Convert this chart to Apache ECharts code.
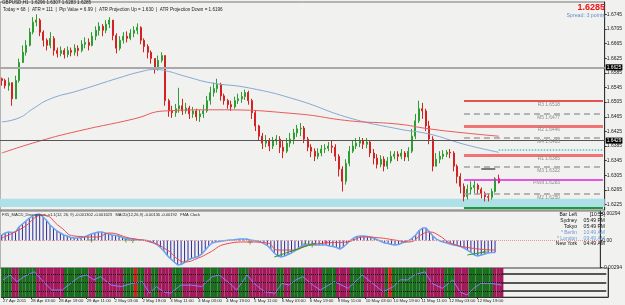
<!DOCTYPE html>
<html>
<head>
<meta charset="utf-8">
<script src="https://cdn.jsdelivr.net/npm/echarts@6/dist/echarts.min.js"></script>
<style>
html, body { margin: 0; padding: 0; background: #f1f1ef; }
#chart { width: 625px; height: 305px; }
</style>
</head>
<body>
<div id="chart"></div>
<script>
// GBPUSD H1 screen, candles grouped by 2 hours
const axisTicks = ['27 Apr 2011', '28 Apr 03:00', '28 Apr 19:00', '29 Apr 11:00', '2 May 03:00', '2 May 19:00',
    '3 May 11:00', '4 May 03:00', '4 May 19:00', '5 May 11:00', '6 May 03:00', '6 May 19:00',
    '9 May 11:00', '10 May 03:00', '10 May 19:00', '11 May 11:00', '12 May 03:00', '12 May 19:00'];

const firstOpen = 1.6569;
const closes = [
    1.6564, 1.6550, 1.6558, 1.6514, 1.6564, 1.6613, 1.6641, 1.6660, 1.6696, 1.6723,
    1.6729, 1.6696, 1.6674, 1.6660, 1.6679, 1.6646, 1.6638, 1.6646, 1.6635, 1.6646,
    1.6641, 1.6652, 1.6646, 1.6663, 1.6668, 1.6660, 1.6685, 1.6701, 1.6712, 1.6701,
    1.6718, 1.6729, 1.6687, 1.6652, 1.6674, 1.6685, 1.6679, 1.6693, 1.6701, 1.6709,
    1.6674, 1.6657, 1.6641, 1.6624, 1.6597, 1.6619, 1.6632, 1.6509, 1.6481, 1.6476,
    1.6487, 1.6495, 1.6481, 1.6489, 1.6473, 1.6481, 1.6465, 1.6473, 1.6481, 1.6509,
    1.6531, 1.6542, 1.6553, 1.6522, 1.6509, 1.6498, 1.6492, 1.6509, 1.6514, 1.6520,
    1.6531, 1.6509, 1.6476, 1.6440, 1.6412, 1.6393, 1.6399, 1.6385, 1.6399, 1.6404,
    1.6382, 1.6371, 1.6393, 1.6404, 1.6421, 1.6432, 1.6434, 1.6404, 1.6382, 1.6371,
    1.6357, 1.6366, 1.6377, 1.6379, 1.6385, 1.6382, 1.6357, 1.6322, 1.6289, 1.6338,
    1.6371, 1.6385, 1.6393, 1.6399, 1.6390, 1.6396, 1.6366, 1.6352, 1.6335, 1.6349,
    1.6330, 1.6344, 1.6357, 1.6363, 1.6357, 1.6366, 1.6355, 1.6371, 1.6412, 1.6454,
    1.6487, 1.6481, 1.6440, 1.6404, 1.6330, 1.6349, 1.6357, 1.6363, 1.6368, 1.6366,
    1.6330, 1.6302, 1.6275, 1.6247, 1.6267, 1.6272, 1.6278, 1.6267, 1.6256, 1.6247,
    1.6245, 1.6261, 1.6296, 1.6285
];
const highs = [
    1.6572, 1.6569, 1.6572, 1.6550, 1.6577, 1.6624, 1.6660, 1.6674, 1.6707, 1.6737,
    1.6745, 1.6734, 1.6701, 1.6679, 1.6696, 1.6685, 1.6654, 1.6657, 1.6652, 1.6657,
    1.6654, 1.6663, 1.6660, 1.6674, 1.6682, 1.6679, 1.6696, 1.6712, 1.6723, 1.6718,
    1.6729, 1.6737, 1.6729, 1.6693, 1.6685, 1.6696, 1.6698, 1.6704, 1.6712, 1.6720,
    1.6712, 1.6679, 1.6663, 1.6646, 1.6624, 1.6632, 1.6641, 1.6632, 1.6514, 1.6495,
    1.6500, 1.6544, 1.6514, 1.6503, 1.6495, 1.6492, 1.6487, 1.6484, 1.6498, 1.6522,
    1.6547, 1.6558, 1.6569, 1.6558, 1.6528, 1.6514, 1.6509, 1.6520, 1.6528, 1.6533,
    1.6539, 1.6536, 1.6514, 1.6481, 1.6443, 1.6421, 1.6415, 1.6407, 1.6410, 1.6415,
    1.6412, 1.6399, 1.6407, 1.6421, 1.6432, 1.6443, 1.6448, 1.6440, 1.6410, 1.6390,
    1.6379, 1.6379, 1.6388, 1.6390, 1.6396, 1.6399, 1.6390, 1.6363, 1.6330, 1.6349,
    1.6385, 1.6399, 1.6407, 1.6410, 1.6407, 1.6407, 1.6399, 1.6377, 1.6363, 1.6360,
    1.6357, 1.6355, 1.6371, 1.6371, 1.6371, 1.6377, 1.6371, 1.6382, 1.6432, 1.6473,
    1.6509, 1.6503, 1.6487, 1.6454, 1.6412, 1.6366, 1.6371, 1.6374, 1.6374, 1.6377,
    1.6371, 1.6335, 1.6311, 1.6283, 1.6280, 1.6289, 1.6291, 1.6283, 1.6272, 1.6261,
    1.6256, 1.6269, 1.6300, 1.6307
];
const lows = [
    1.6550, 1.6542, 1.6536, 1.6495, 1.6514, 1.6558, 1.6613, 1.6632, 1.6657, 1.6690,
    1.6712, 1.6685, 1.6657, 1.6646, 1.6652, 1.6632, 1.6627, 1.6630, 1.6624, 1.6627,
    1.6630, 1.6632, 1.6630, 1.6641, 1.6652, 1.6646, 1.6657, 1.6674, 1.6687, 1.6685,
    1.6693, 1.6707, 1.6674, 1.6638, 1.6646, 1.6665, 1.6668, 1.6674, 1.6682, 1.6690,
    1.6663, 1.6641, 1.6624, 1.6610, 1.6583, 1.6591, 1.6613, 1.6495, 1.6465, 1.6462,
    1.6465, 1.6476, 1.6470, 1.6473, 1.6459, 1.6462, 1.6454, 1.6451, 1.6462, 1.6476,
    1.6498, 1.6520, 1.6531, 1.6509, 1.6498, 1.6487, 1.6481, 1.6487, 1.6500, 1.6503,
    1.6511, 1.6498, 1.6459, 1.6426, 1.6399, 1.6377, 1.6382, 1.6371, 1.6377, 1.6388,
    1.6366, 1.6352, 1.6366, 1.6382, 1.6390, 1.6410, 1.6412, 1.6393, 1.6371, 1.6355,
    1.6344, 1.6349, 1.6357, 1.6366, 1.6371, 1.6366, 1.6344, 1.6302, 1.6261, 1.6280,
    1.6330, 1.6366, 1.6377, 1.6382, 1.6377, 1.6379, 1.6355, 1.6335, 1.6324, 1.6327,
    1.6316, 1.6322, 1.6338, 1.6349, 1.6344, 1.6349, 1.6344, 1.6344, 1.6366, 1.6404,
    1.6448, 1.6459, 1.6426, 1.6390, 1.6316, 1.6330, 1.6338, 1.6349, 1.6355, 1.6352,
    1.6316, 1.6283, 1.6256, 1.6234, 1.6239, 1.6253, 1.6256, 1.6253, 1.6242, 1.6234,
    1.6234, 1.6239, 1.6258, 1.6283
];

// moving averages, [bar, price]
const maBlue = [[0, 1.6451], [5, 1.6462], [9, 1.6487], [14, 1.6514], [22, 1.6536], [34, 1.6572], [40, 1.6588],
    [44, 1.6594], [47, 1.6591], [53, 1.6575], [60, 1.6558], [71, 1.6544], [85, 1.6511], [100, 1.6462],
    [114, 1.6432], [123, 1.6418], [133, 1.6390], [143, 1.6368]];
const maRed = [[0, 1.6366], [11, 1.6399], [22, 1.6426], [38, 1.6459], [47, 1.6481], [62, 1.6484], [85, 1.6473],
    [100, 1.6454], [114, 1.6445], [123, 1.6432], [133, 1.6421], [143, 1.6412]];

const macd = [
    0.00060, 0.00082, 0.00093, 0.00087, 0.00093, 0.00147, 0.00180, 0.00213, 0.00245, 0.00267,
    0.00283, 0.00289, 0.00256, 0.00218, 0.00169, 0.00136, 0.00104, 0.00082, 0.00060, 0.00049,
    0.00033, 0.00027, 0.00027, 0.00033, 0.00038, 0.00055, 0.00071, 0.00082, 0.00093, 0.00093,
    0.00082, 0.00071, 0.00060, 0.00055, 0.00049, 0.00033, 0.00022, 0.00016, 0.00016, 0.00011,
    0.00005, 0.00005, 0.00000, -0.00011, -0.00022, -0.00044, -0.00076, -0.00114, -0.00164, -0.00202,
    -0.00234, -0.00267, -0.00262, -0.00240, -0.00213, -0.00196, -0.00185, -0.00174, -0.00147, -0.00104,
    -0.00060, -0.00027, -0.00016, -0.00011, -0.00005, 0.00000, 0.00005, 0.00005, 0.00011, 0.00016,
    0.00016, 0.00016, 0.00005, 0.00000, -0.00005, -0.00016, -0.00033, -0.00055, -0.00093, -0.00136,
    -0.00169, -0.00180, -0.00169, -0.00153, -0.00136, -0.00114, -0.00082, -0.00060, -0.00049, -0.00044,
    -0.00038, -0.00049, -0.00049, -0.00049, -0.00049, -0.00060, -0.00065, -0.00076, -0.00093, -0.00071,
    -0.00038, 0.00000, 0.00027, 0.00044, 0.00049, 0.00049, 0.00044, 0.00038, 0.00022, 0.00005,
    -0.00011, -0.00027, -0.00033, -0.00044, -0.00049, -0.00044, -0.00027, -0.00016, 0.00000, 0.00027,
    0.00060, 0.00109, 0.00136, 0.00136, 0.00093, 0.00049, 0.00016, -0.00005, -0.00016, -0.00027,
    -0.00038, -0.00049, -0.00055, -0.00065, -0.00082, -0.00104, -0.00131, -0.00158, -0.00169, -0.00158,
    -0.00147, -0.00136, -0.00131, -0.00130
];
const macdSignal = [[0, 0.00027], [6, 0.00136], [12, 0.00278], [17, 0.00147], [21, 0.00049], [28, 0.00038],
    [31, 0.00082], [37, 0.00027], [43, -0.00016], [48, -0.00104], [51, -0.00202], [53, -0.00234], [57, -0.00191],
    [60, -0.00136], [65, -0.00038], [71, -0.00016], [77, -0.00027], [80, -0.00104], [85, -0.00104], [88, -0.00060],
    [94, -0.00027], [100, -0.00016], [105, 0.00038], [110, 0.00027], [114, 0.00005], [118, -0.00016],
    [122, 0.00071], [124, 0.00093], [127, 0.00049], [130, -0.00027], [136, -0.00082], [143, -0.00104]];
const divLines = [[[79, -0.00180], [91, -0.00027]], [[135, -0.00158], [140, -0.00125]]];
const plusMarks = [[26, 0.00005], [36, 0.00005], [38, 0.00000], [72, -0.00016], [88, -0.00038], [90, -0.00049], [140, -0.00125]];
const starMarks = [[94, -0.00016]];

// lower pane oscillator and its colour blocks
const stoch = [[0, 59], [2, 76], [4, 53], [6, 70], [9, 87], [12, 47], [14, 24], [17, 24], [20, 53], [22, 70],
    [24, 76], [26, 59], [28, 70], [31, 41], [34, 36], [37, 47], [40, 53], [42, 13], [44, 36], [46, 18],
    [48, 13], [51, 41], [54, 41], [57, 36], [60, 70], [62, 76], [65, 47], [67, 24], [70, 76], [72, 47],
    [75, 18], [78, 13], [80, 47], [82, 41], [84, 59], [86, 70], [89, 40], [91, 24], [95, 53], [99, 30],
    [102, 64], [103, 76], [106, 47], [109, 18], [112, 36], [114, 59], [116, 59], [118, 76], [121, 87],
    [123, 47], [126, 30], [129, 59], [131, 18], [133, 7], [135, 30], [137, 47], [140, 47], [143, 41]];
const blockRuns = [['g', 3], ['m', 2], ['g', 5], ['m', 8], ['g', 7], ['m', 2], ['g', 2], ['m', 6], ['g', 3], ['r', 1],
    ['g', 2], ['m', 2], ['g', 2], ['m', 4], ['g', 3], ['m', 6], ['g', 5], ['m', 5], ['g', 3], ['m', 8], ['g', 2],
    ['m', 2], ['g', 4], ['m', 5], ['g', 4], ['m', 4], ['g', 4], ['m', 6], ['g', 1], ['r', 1], ['g', 10], ['m', 5],
    ['g', 3], ['m', 4], ['g', 7], ['m', 3]];
const stochLevels = [80, 50, 20];

// price axis
const priceTicks = [1.6745, 1.6705, 1.6665, 1.6625, 1.6585, 1.6545, 1.6505, 1.6465, 1.6425, 1.6385, 1.6345, 1.6305, 1.6265, 1.6225];
const roundLevels = [1.67, 1.66, 1.65, 1.64, 1.63];
const pivotText = ['R3 1.6518', 'M5 1.6477', 'R2 1.6446', 'M4 1.6403', 'R1 1.6365', 'M3 1.6322', 'Pivot 1.6283', 'M2 1.6250'];
const pivotLevels = [1.6508, 1.6473, 1.6440, 1.6407, 1.6361, 1.6328, 1.6294, 1.6254];
const pivotKinds = ['r3', 'm', 'r', 'm', 'r', 'm', 'p', 'm'];

const slots = 174;     // bar slots on the time axis, including the empty right margin
const dayStart = 133;  // first bar of 12 May
const FONT = '"Liberation Sans", Arial, sans-serif';

const cats = [];
for (let i = 0; i < slots; i++) {
    cats.push(i % 8 === 0 && i / 8 < axisTicks.length ? axisTicks[i / 8] : '');
}
const candles = closes.map((c, i) => [i === 0 ? firstOpen : closes[i - 1], c, lows[i], highs[i]]);

const blockColors = { g: '#186e1c', m: '#a3185a', r: '#e01818' };
const blocks = [];
blockRuns.forEach(([k, n]) => {
    for (let j = 0; j < n; j++) blocks.push({ value: 100, itemStyle: { color: blockColors[k] } });
});

const pivotStyle = {
    r3: { color: '#e01c1c', width: 1.5, type: 'solid' },
    r: { color: '#f07474', width: 3, type: 'solid' },
    m: { color: '#a0a0a0', width: 1.5, type: [6, 4] },
    p: { color: '#e020e0', width: 1.5, type: 'solid' }
};

function boxLabel(text) {
    return {
        show: true, position: 'end', distance: 1, formatter: text,
        backgroundColor: '#000', color: '#fff', fontSize: 4.8, fontFamily: FONT, padding: [1, 1, 0, 1]
    };
}
function hline(v, style, label) {
    return { yAxis: v, lineStyle: style, label: label || { show: false } };
}
function seg(x0, x1, v, style, label) {
    return [{ coord: [x0, v], lineStyle: style, label: label || { show: false } }, { coord: [x1, v] }];
}

const mainLines = [
    hline(1.6623, { color: '#a9a9a9', width: 2, type: 'solid' }, boxLabel('1.6625')),
    hline(1.6426, { color: '#555', width: 1, type: 'solid' }, boxLabel('1.6429')),
    hline(1.6285, { opacity: 0 }, boxLabel('1.6285')),
    hline(1.6229, { color: '#5c7078', width: 1, type: 'solid' }, boxLabel('1.6211'))
];
roundLevels.forEach(v => mainLines.push(hline(v, { opacity: 0 }, {
    show: true, position: 'insideEndBottom', distance: 1, formatter: v.toFixed(4),
    color: '#444', fontSize: 5.3, fontFamily: FONT, padding: [0, 2, 0, 0]
})));
pivotLevels.forEach((v, k) => mainLines.push(seg(dayStart, slots - 1, v, pivotStyle[pivotKinds[k]], {
    show: true, position: 'insideEndBottom', distance: 1, formatter: pivotText[k],
    color: '#8a8a8a', fontSize: 4.8, fontFamily: FONT, padding: [0, 42, 0, 0]
})));
mainLines.push(seg(dayStart, slots - 1, 1.6217, { color: '#1f9a3a', width: 2, type: 'solid' }));
mainLines.push(seg(143, slots - 1, 1.6374, { color: '#4cc4c0', width: 1.5, type: 'dotted' }));
mainLines.push(seg(138, 142, 1.6322, { color: '#555', width: 1.5, type: 'solid' }));

const stochLines = [];
stochLevels.forEach(v => {
    stochLines.push(seg(0, 143, v, { color: '#111', width: 1, type: 'dotted' }));
    stochLines.push(seg(143, slots - 1, v, { color: '#222', width: 1.5, type: 'solid' }));
    stochLines.push(hline(v, { opacity: 0 }, boxLabel(String(v))));
});

function txt(x, y, s, color, size, align, weight) {
    return {
        type: 'text', x: x, y: y, silent: true, z: 100,
        style: { text: s, fill: color, font: (weight || 'normal') + ' ' + size + 'px ' + FONT, align: align || 'left', verticalAlign: 'middle' }
    };
}
const clock = [['Bar Left', '[10:55]', '#111'], ['Sydney', '05:49 PM', '#111'], ['Tokyo', '05:49 PM', '#111'],
    ['* Berlin', '10:49 AM', '#6b9ad6'], ['* London', '09:49 AM', '#6b9ad6'], ['New York', '04:49 AM', '#111']];
const graphics = [
    txt(2, 3, 'GBPUSD,H1  1.6296 1.6307 1.6283 1.6285', '#222', 4.6),
    txt(3, 9.5, 'Today = 68  |  ATR = 111  |  Pip Value = 6.99  |  ATR Projection Up = 1.630  |  ATR Projection Down = 1.6196', '#222', 4.6),
    txt(605, 8, '1.6285', '#f01010', 9, 'right', 'bold'),
    txt(605, 15.5, 'Spread: 3 points', '#6a8fc8', 5.3, 'right'),
    txt(2, 215, 'FX5_MACD_Divergence_v1.1(12, 26, 9) -0.001302 -0.001623   MACD(12,26,9) -0.00130 -0.00192   FMA Clock', '#222', 4)
];
clock.forEach((c, k) => {
    const y = 215 + k * 5.8;
    graphics.push(txt(577, y, c[0], c[2], 5, 'right'));
    graphics.push(txt(605, y, c[1], c[2], 5, 'right'));
});

const hiddenX = (grid) => ({
    type: 'category', gridIndex: grid, data: cats, boundaryGap: true, show: false
});
const rightY = (grid, min, max, ticks, fmt) => ({
    type: 'value', gridIndex: grid, position: 'right', min: min, max: max,
    splitLine: { show: false },
    axisLine: { show: true, lineStyle: { color: '#333' } },
    axisTick: { show: !!ticks, length: 2, customValues: ticks || undefined },
    axisLabel: { show: !!ticks, customValues: ticks || undefined, formatter: fmt, fontSize: 5, color: '#222', margin: 2, fontFamily: FONT }
});

const chart = echarts.init(document.getElementById('chart'));
chart.setOption({
    animation: false,
    backgroundColor: '#f1f1ef',
    graphic: graphics,
    grid: [
        { left: 0, right: 17, top: 2, height: 208, show: true, borderColor: '#777', borderWidth: 1 },
        { left: 0, right: 17, top: 211, height: 57, show: true, borderColor: '#777', borderWidth: 1 },
        { left: 0, right: 17, top: 268, height: 29, show: true, borderColor: '#777', borderWidth: 1 }
    ],
    xAxis: [
        hiddenX(0),
        hiddenX(1),
        {
            type: 'category', gridIndex: 2, data: cats, boundaryGap: true,
            axisLine: { show: true, lineStyle: { color: '#333' } },
            axisTick: { show: true, length: 2, alignWithLabel: true, interval: (i, v) => v !== '' },
            axisLabel: { interval: 0, fontSize: 4.3, color: '#222', align: 'left', margin: 2, fontFamily: FONT }
        }
    ],
    yAxis: [
        rightY(0, 1.62105, 1.67783, priceTicks, v => v.toFixed(4)),
        rightY(1, -0.00300, 0.00322, [0.00294, 0, -0.00294], v => (v === 0 ? '0.00' : v.toFixed(5))),
        rightY(2, 0, 100, null)
    ],
    series: [
        {
            type: 'line', xAxisIndex: 0, yAxisIndex: 0, data: maBlue, smooth: true, symbol: 'none', silent: true,
            lineStyle: { color: '#86a8d4', width: 1 }
        },
        {
            type: 'line', xAxisIndex: 0, yAxisIndex: 0, data: maRed, smooth: true, symbol: 'none', silent: true,
            lineStyle: { color: '#e85a5a', width: 1 }
        },
        {
            type: 'candlestick', xAxisIndex: 0, yAxisIndex: 0, data: candles, barWidth: 1.5, silent: true,
            itemStyle: { color: '#2f9e32', color0: '#d42222', borderColor: '#2f9e32', borderColor0: '#d42222', borderWidth: 1 },
            markArea: {
                silent: true,
                itemStyle: { color: '#aee0e8' },
                data: [[{ yAxis: 1.6241 }, { yAxis: 1.6219 }]]
            },
            markLine: { silent: true, symbol: ['none', 'none'], animation: false, data: mainLines }
        },
        {
            type: 'bar', xAxisIndex: 1, yAxisIndex: 1, data: macd, barWidth: 1, silent: true,
            itemStyle: { color: '#2c2c9c' },
            markLine: {
                silent: true, symbol: ['none', 'none'],
                data: [hline(0, { color: '#e89898', width: 1, type: 'dotted' })]
            }
        },
        {
            type: 'line', xAxisIndex: 1, yAxisIndex: 1, data: macd, symbol: 'none', silent: true,
            lineStyle: { color: '#6aa2f0', width: 1.5 }
        },
        {
            type: 'line', xAxisIndex: 1, yAxisIndex: 1, data: macdSignal, smooth: true, symbol: 'none', silent: true,
            lineStyle: { color: '#f04848', width: 1 }
        },
        ...divLines.map(d => ({
            type: 'line', xAxisIndex: 1, yAxisIndex: 1, data: d, symbol: 'none', silent: true,
            lineStyle: { color: '#2a9a2a', width: 1 }
        })),
        {
            type: 'scatter', xAxisIndex: 1, yAxisIndex: 1, data: plusMarks, silent: true,
            symbol: 'path://M4,0h2v4h4v2h-4v4h-2v-4h-4v-2h4z', symbolSize: 5, itemStyle: { color: '#2a9a2a' }
        },
        {
            type: 'scatter', xAxisIndex: 1, yAxisIndex: 1, data: starMarks, silent: true,
            symbol: 'diamond', symbolSize: 4, itemStyle: { color: '#d03090' }
        },
        {
            type: 'bar', xAxisIndex: 2, yAxisIndex: 2, data: blocks, barCategoryGap: '0%', silent: true,
            markLine: { silent: true, symbol: ['none', 'none'], data: stochLines }
        },
        {
            type: 'line', xAxisIndex: 2, yAxisIndex: 2, data: stoch, symbol: 'none', silent: true,
            lineStyle: { color: '#8c7cff', width: 1 }
        }
    ]
});
</script>
</body>
</html>
